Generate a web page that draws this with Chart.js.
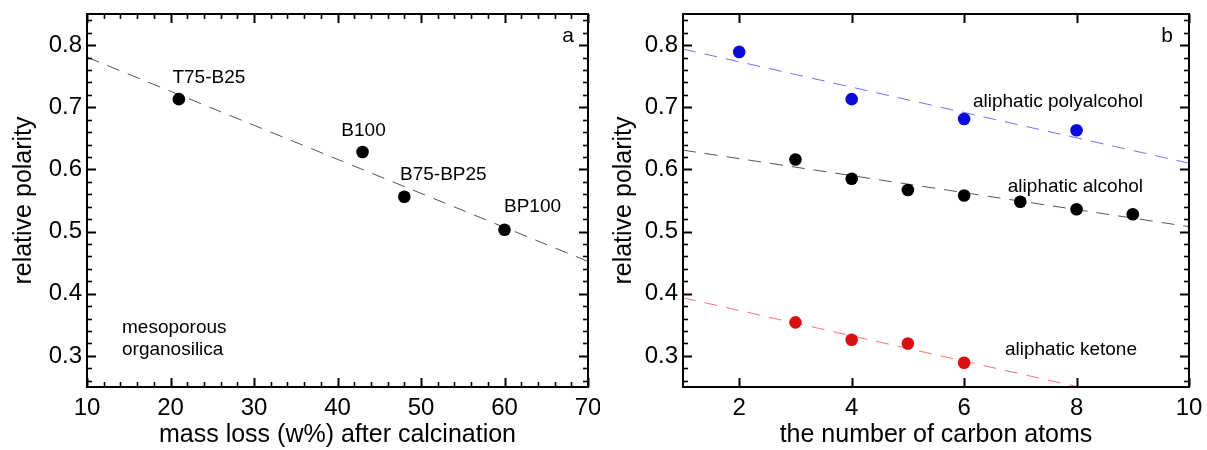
<!DOCTYPE html>
<html><head><meta charset="utf-8">
<script src="https://cdn.jsdelivr.net/npm/chart.js@4.4.1/dist/chart.umd.min.js"></script>
<style>
html,body{margin:0;padding:0;background:#fff;width:1207px;height:450px;overflow:hidden;}
#ca{position:absolute;left:0;top:0;width:600px;height:450px;}
#cb{position:absolute;left:600px;top:0;width:607px;height:450px;}
</style></head><body>
<canvas id="ca" width="600" height="450"></canvas>
<canvas id="cb" width="607" height="450"></canvas>
<script>
// ---------- panel a data ----------
const massLoss = [21, 43, 48, 60];
const polarityA = [0.713, 0.628, 0.556, 0.503];
const sampleNames = ['T75-B25', 'B100', 'B75-BP25', 'BP100'];
const fitAX = [10, 70];
const fitAY = [0.7805, 0.452];
const xTicksA = [10, 20, 30, 40, 50, 60, 70];
const yTicks = [0.3, 0.4, 0.5, 0.6, 0.7, 0.8];

// ---------- panel b data ----------
const polyC = [2, 4, 6, 8];
const polyP = [0.789, 0.713, 0.681, 0.663];
const alcC = [3, 4, 5, 6, 7, 8, 9];
const alcP = [0.616, 0.585, 0.567, 0.558, 0.548, 0.536, 0.528];
const ketC = [3, 4, 5, 6];
const ketP = [0.354, 0.326, 0.320, 0.289];
const fitBX = [1, 10];
const polyFitY = [0.7935, 0.610];
const alcFitY = [0.631, 0.508];
const ketFitY = [0.3935, 0.210];
const xTicksB = [2, 4, 6, 8, 10];

const FONT = "'Liberation Sans', Arial, sans-serif";
const pts = (xs, ys) => xs.map((x, i) => ({x, y: ys[i]}));

function stepVals(a, b, s, skip) {
  const out = [];
  for (let i = 0; a + i * s <= b + 1e-9; i++) {
    const v = +(a + i * s).toFixed(4);
    if (!skip(v)) out.push(v);
  }
  return out;
}
const isTenth = v => Math.abs(v * 10 - Math.round(v * 10)) < 1e-6;

const frameTicks = {
  id: 'frameTicks',
  afterDraw(chart, args, o) {
    const {ctx, chartArea: {left, right, top, bottom}, scales: {x, y}} = chart;
    ctx.save();
    ctx.strokeStyle = '#000';
    const seg = (x1, y1, x2, y2, w) => { ctx.lineWidth = w; ctx.beginPath(); ctx.moveTo(x1, y1); ctx.lineTo(x2, y2); ctx.stroke(); };
    for (const v of o.xMajor) { const p = Math.round(x.getPixelForValue(v)) + 0.5; seg(p, bottom, p, bottom - 9, 2); seg(p, top, p, top + 9, 2); }
    for (const v of o.xMinor) { const p = Math.round(x.getPixelForValue(v)) + 0.5; seg(p, bottom, p, bottom - 5, 1.6); seg(p, top, p, top + 5, 1.6); }
    for (const v of o.yMajor) { const p = Math.round(y.getPixelForValue(v)) + 0.5; seg(left, p, left + 9, p, 2); seg(right, p, right - 9, p, 2); }
    for (const v of o.yMinor) { const p = Math.round(y.getPixelForValue(v)) + 0.5; seg(left, p, left + 5, p, 1.6); seg(right, p, right - 5, p, 1.6); }
    ctx.lineWidth = 2;
    ctx.strokeRect(left, top, right - left, bottom - top);
    // annotations
    ctx.fillStyle = '#000';
    ctx.textBaseline = 'alphabetic';
    for (const t of o.texts) {
      ctx.font = t.size + 'px ' + FONT;
      ctx.textAlign = t.align;
      const px = t.px != null ? t.px : x.getPixelForValue(t.x) + (t.dx || 0);
      const py = t.py != null ? t.py : y.getPixelForValue(t.y) + (t.dy || 0);
      ctx.fillText(t.text, px, py);
    }
    ctx.restore();
  }
};

function makeScales(o) {
  return {
    x: {
      type: 'linear', min: o.xMin, max: o.xMax,
      afterBuildTicks: s => { s.ticks = o.xTicks.map(v => ({value: v})); },
      afterFit: s => { s.height = o.xH; s.paddingLeft = 0; s.paddingRight = 0; s.paddingTop = 0; s.paddingBottom = 0; },
      grid: {display: false, drawTicks: false}, border: {display: false},
      ticks: {font: {family: FONT, size: 24}, color: '#000', padding: 7, maxRotation: 0, autoSkip: false},
      title: {display: true, text: o.xTitle, font: {family: FONT, size: 25}, color: '#000', padding: {top: 0, bottom: 0}}
    },
    y: {
      type: 'linear', min: 0.25, max: 0.85,
      afterBuildTicks: s => { s.ticks = yTicks.map(v => ({value: v})); },
      afterFit: s => { s.width = o.yW; s.paddingLeft = 0; s.paddingRight = 0; s.paddingTop = 0; s.paddingBottom = 0; },
      grid: {display: false, drawTicks: false}, border: {display: false},
      ticks: {font: {family: FONT, size: 24}, color: '#000', padding: 5, autoSkip: false, callback: v => v.toFixed(1)},
      title: {display: true, text: 'relative polarity', font: {family: FONT, size: 25}, color: '#000', padding: {top: 9, bottom: 0}}
    }
  };
}

const common = {
  responsive: false, animation: false, devicePixelRatio: 1,
  plugins: {legend: {display: false}, tooltip: {enabled: false}}
};

const dash = [13, 9];
const labelOffsetsA = [[30, -22], [1, -22], [39, -23], [28, -24]];

new Chart(document.getElementById('ca'), {
  type: 'scatter',
  data: {datasets: [
    {data: pts(massLoss, polarityA), pointRadius: 6.3, backgroundColor: '#000', borderWidth: 0, order: 0},
    {data: pts(fitAX, fitAY), showLine: true, borderColor: '#555', borderWidth: 1, borderDash: dash, pointRadius: 0, order: 1}
  ]},
  options: Object.assign({}, common, {
    layout: {padding: {left: 0, right: 12, top: 14, bottom: 0}},
    scales: makeScales({xMin: 10, xMax: 70, xTicks: xTicksA, xH: 63, yW: 87, xTitle: 'mass loss (w%) after calcination'}),
    plugins: Object.assign({}, common.plugins, {frameTicks: {
      xMajor: xTicksA, xMinor: stepVals(10, 70, 2, v => v % 10 === 0),
      yMajor: yTicks, yMinor: stepVals(0.26, 0.84, 0.02, isTenth),
      texts: sampleNames.map((n, i) => ({text: n, x: massLoss[i], y: polarityA[i], dx: labelOffsetsA[i][0], dy: labelOffsetsA[i][1] + 6, align: 'center', size: 19}))
        .concat([
          {text: 'a', px: 574, py: 42, align: 'right', size: 21},
          {text: 'mesoporous', px: 122, py: 333, align: 'left', size: 19},
          {text: 'organosilica', px: 122, py: 355, align: 'left', size: 19}
        ])
    }})
  }),
  plugins: [frameTicks]
});

new Chart(document.getElementById('cb'), {
  type: 'scatter',
  data: {datasets: [
    {data: pts(polyC, polyP), pointRadius: 6.3, backgroundColor: '#0c0cd8', borderWidth: 0, order: 0},
    {data: pts(alcC, alcP), pointRadius: 6.3, backgroundColor: '#000', borderWidth: 0, order: 0},
    {data: pts(ketC, ketP), pointRadius: 6.3, backgroundColor: '#d81010', borderWidth: 0, order: 0},
    {data: pts(fitBX, polyFitY), showLine: true, borderColor: '#7070ff', borderWidth: 1, borderDash: dash, pointRadius: 0, order: 1},
    {data: pts(fitBX, alcFitY), showLine: true, borderColor: '#555', borderWidth: 1, borderDash: dash, pointRadius: 0, order: 1},
    {data: pts(fitBX, ketFitY), showLine: true, borderColor: '#ff7070', borderWidth: 1, borderDash: dash, pointRadius: 0, order: 1}
  ]},
  options: Object.assign({}, common, {
    layout: {padding: {left: 0, right: 18, top: 14, bottom: 0}},
    scales: makeScales({xMin: 1, xMax: 10, xTicks: xTicksB, xH: 63, yW: 83, xTitle: 'the number of carbon atoms'}),
    plugins: Object.assign({}, common.plugins, {frameTicks: {
      xMajor: xTicksB, xMinor: [],
      yMajor: yTicks, yMinor: stepVals(0.26, 0.84, 0.02, isTenth),
      texts: [
        {text: 'b', px: 573, py: 42, align: 'right', size: 21},
        {text: 'aliphatic polyalcohol', px: 543, py: 107, align: 'right', size: 19},
        {text: 'aliphatic alcohol', px: 543, py: 192, align: 'right', size: 19},
        {text: 'aliphatic ketone', px: 537, py: 355, align: 'right', size: 19}
      ]
    }})
  }),
  plugins: [frameTicks]
});
</script>
</body></html>
